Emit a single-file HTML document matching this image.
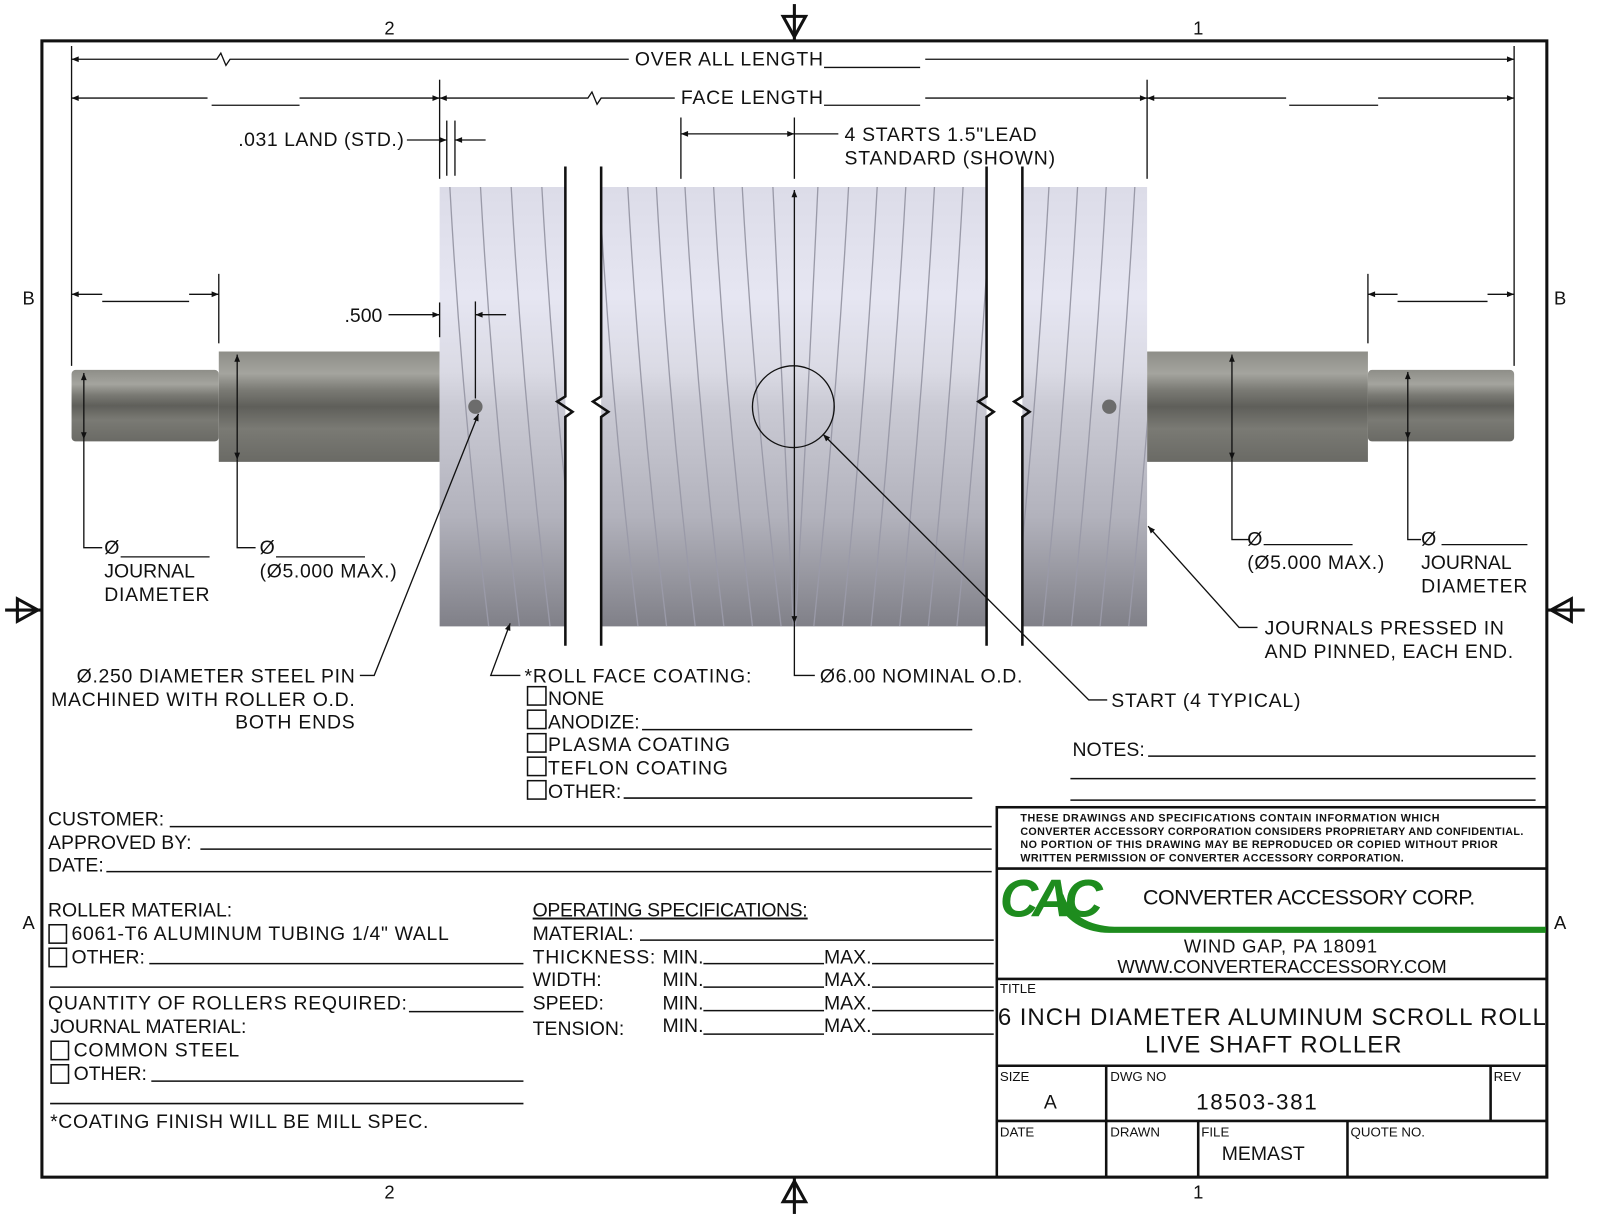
<!DOCTYPE html>
<html><head><meta charset="utf-8"><style>
html,body{margin:0;padding:0;background:#fff;}
svg{display:block;}
text{font-family:"Liberation Sans",Arial,sans-serif;fill:#111;}
</style></head><body>
<svg width="1600" height="1217" viewBox="0 0 1565 1191" preserveAspectRatio="none" xmlns="http://www.w3.org/2000/svg">
<defs>
<linearGradient id="body" x1="0" y1="0" x2="0" y2="1">
<stop offset="0" stop-color="#dcdce8"/><stop offset="0.25" stop-color="#e6e6f2"/><stop offset="0.42" stop-color="#dadae4"/><stop offset="0.5" stop-color="#cacad4"/><stop offset="0.75" stop-color="#b2b2bc"/><stop offset="1" stop-color="#808088"/>
</linearGradient>
<linearGradient id="shaft" x1="0" y1="0" x2="0" y2="1">
<stop offset="0" stop-color="#8e8e88"/><stop offset="0.2" stop-color="#a4a49e"/><stop offset="0.35" stop-color="#7a7a74"/><stop offset="0.5" stop-color="#5f5f5a"/><stop offset="0.7" stop-color="#7a7a74"/><stop offset="1" stop-color="#6a6a65"/>
</linearGradient>
<marker id="ar" viewBox="0 0 10 10" refX="10" refY="5" markerWidth="16" markerHeight="7" orient="auto-start-reverse" markerUnits="userSpaceOnUse"><path d="M0,1 L10,5 L0,9 z" fill="#111"/></marker>
<clipPath id="c1"><rect x="430" y="183" width="123" height="430"/></clipPath>
<clipPath id="c2"><rect x="588" y="183" width="377" height="430"/></clipPath>
<clipPath id="c3"><rect x="1000" y="183" width="122" height="430"/></clipPath>
</defs>

<rect x="41" y="40" width="1472" height="1112" fill="none" stroke="#111" stroke-width="3"/>
<g font-size="18">
<text x="376" y="34">2</text><text x="1167" y="34">1</text>
<text x="376" y="1173">2</text><text x="1167" y="1173">1</text>
<text x="22" y="298">B</text><text x="1520" y="298">B</text>
<text x="22" y="909">A</text><text x="1520" y="909">A</text>
</g>
<g stroke="#111" stroke-width="3" fill="none">
<line x1="777" y1="4" x2="777" y2="40"/><path d="M766,16 L788,16 L777,36 z"/>
<line x1="777" y1="1152" x2="777" y2="1188"/><path d="M766,1176 L788,1176 L777,1156 z"/>
<line x1="5" y1="597" x2="41" y2="597"/><path d="M17,586 L17,608 L37,597 z"/>
<line x1="1513" y1="597" x2="1550" y2="597"/><path d="M1537,586 L1537,608 L1517,597 z"/>
</g>

<rect x="70" y="362" width="144" height="70" rx="4" fill="url(#shaft)"/>
<rect x="214" y="344" width="216" height="108" fill="url(#shaft)"/>
<rect x="1122" y="344" width="216" height="108" fill="url(#shaft)"/>
<rect x="1338" y="362" width="143" height="70" rx="4" fill="url(#shaft)"/>

<rect x="430" y="183" width="123" height="430" fill="url(#body)"/>
<rect x="588" y="183" width="377" height="430" fill="url(#body)"/>
<rect x="1000" y="183" width="122" height="430" fill="url(#body)"/>
<g fill="none" stroke="#9a9aa8" stroke-width="1.3">
<g clip-path="url(#c1)">
<path d="M440,183 Q452,400 478,613"/><path d="M470,183 Q482,400 508,613"/><path d="M500,183 Q512,400 538,613"/><path d="M530,183 Q542,400 568,613"/>
</g>
<g clip-path="url(#c2)">
<path d="M586,183 Q598,400 624,613"/><path d="M614,183 Q626,400 652,613"/><path d="M642,183 Q654,400 680,613"/><path d="M670,183 Q682,400 708,613"/><path d="M698,183 Q710,400 736,613"/><path d="M726,183 Q738,400 764,613"/><path d="M756,183 Q766,400 776,613"/>
<path d="M800,183 Q790,400 778,613"/><path d="M830,183 Q818,400 796,613"/><path d="M858,183 Q846,400 824,613"/><path d="M886,183 Q874,400 852,613"/><path d="M914,183 Q902,400 880,613"/><path d="M942,183 Q930,400 908,613"/><path d="M970,183 Q958,400 936,613"/>
</g>
<g clip-path="url(#c3)">
<path d="M1026,183 Q1014,400 992,613"/><path d="M1054,183 Q1042,400 1020,613"/><path d="M1082,183 Q1070,400 1048,613"/><path d="M1110,183 Q1098,400 1076,613"/><path d="M1138,183 Q1126,400 1104,613"/>
</g>
</g>
<circle cx="465" cy="398" r="7" fill="#6c6c6c"/>
<circle cx="1085" cy="398" r="7" fill="#6c6c6c"/>

<g stroke="#111" stroke-width="2.5" fill="none">
<path d="M553,163 L553,388 L545,393 L560,403 L553,408 L553,632"/>
<path d="M588,163 L588,388 L580,393 L595,403 L588,408 L588,632"/>
<path d="M965,163 L965,388 L957,393 L972,403 L965,408 L965,632"/>
<path d="M1000,163 L1000,388 L992,393 L1007,403 L1000,408 L1000,632"/>
</g>

<g stroke="#111" stroke-width="1.3" fill="none">
<line x1="70" y1="45" x2="70" y2="358"/>
<line x1="1481" y1="45" x2="1481" y2="358"/>
<line x1="430" y1="78" x2="430" y2="175"/>
<line x1="1122" y1="78" x2="1122" y2="175"/>
<line x1="214" y1="268" x2="214" y2="336"/>
<line x1="1338" y1="268" x2="1338" y2="336"/>
<path d="M70,58 L212,58 L216,52 L221,64 L225,58 L615,58" marker-start="url(#ar)"/>
<line x1="905" y1="58" x2="1481" y2="58" marker-end="url(#ar)"/>
<line x1="806" y1="66" x2="900" y2="66"/>
<line x1="70" y1="96" x2="203" y2="96" marker-start="url(#ar)"/>
<line x1="207" y1="103" x2="293" y2="103"/>
<line x1="293" y1="96" x2="430" y2="96" marker-end="url(#ar)"/>
<path d="M430,96 L575,96 L579,90 L584,102 L588,96 L660,96" marker-start="url(#ar)"/>
<line x1="905" y1="96" x2="1122" y2="96" marker-end="url(#ar)"/>
<line x1="806" y1="103" x2="900" y2="103"/>
<line x1="1122" y1="96" x2="1258" y2="96" marker-start="url(#ar)"/>
<line x1="1261" y1="103" x2="1348" y2="103"/>
<line x1="1348" y1="96" x2="1481" y2="96" marker-end="url(#ar)"/>
<line x1="437" y1="118" x2="437" y2="172"/><line x1="445" y1="118" x2="445" y2="172"/>
<line x1="398" y1="137" x2="437" y2="137" marker-end="url(#ar)"/>
<line x1="475" y1="137" x2="445" y2="137" marker-end="url(#ar)"/>
<line x1="666" y1="115" x2="666" y2="175"/>
<line x1="777" y1="115" x2="777" y2="175"/>
<line x1="666" y1="131" x2="777" y2="131" marker-start="url(#ar)" marker-end="url(#ar)"/>
<line x1="777" y1="131" x2="820" y2="131"/>
<line x1="70" y1="288" x2="100" y2="288" marker-start="url(#ar)"/>
<line x1="100" y1="295" x2="185" y2="295"/>
<line x1="185" y1="288" x2="214" y2="288" marker-end="url(#ar)"/>
<line x1="1338" y1="288" x2="1367" y2="288" marker-start="url(#ar)"/>
<line x1="1367" y1="295" x2="1455" y2="295"/>
<line x1="1455" y1="288" x2="1481" y2="288" marker-end="url(#ar)"/>
<line x1="380" y1="308" x2="430" y2="308" marker-end="url(#ar)"/>
<line x1="430" y1="296" x2="430" y2="330"/>
<line x1="465" y1="295" x2="465" y2="390"/>
<line x1="495" y1="308" x2="465" y2="308" marker-end="url(#ar)"/>
<path d="M82,365 L82,430" marker-start="url(#ar)" marker-end="url(#ar)"/>
<path d="M82,430 L82,536 L100,536"/><line x1="118" y1="545" x2="205" y2="545"/>
<path d="M232,347 L232,450" marker-start="url(#ar)" marker-end="url(#ar)"/>
<path d="M232,450 L232,536 L250,536"/><line x1="270" y1="545" x2="357" y2="545"/>
<path d="M1205,347 L1205,450" marker-start="url(#ar)" marker-end="url(#ar)"/>
<path d="M1205,450 L1205,528 L1222,528"/><line x1="1236" y1="533" x2="1323" y2="533"/>
<path d="M1377,364 L1377,430" marker-start="url(#ar)" marker-end="url(#ar)"/>
<path d="M1377,430 L1377,528 L1390,528"/><line x1="1410" y1="533" x2="1494" y2="533"/>
<path d="M777,186 L777,610" marker-start="url(#ar)" marker-end="url(#ar)"/>
<path d="M777,610 L777,661 L797,661"/>
<circle cx="776" cy="398" r="40"/>
<path d="M352,661 L366,661 L468,405" marker-end="url(#ar)"/>
<path d="M509,661 L480,661 L499,610" marker-end="url(#ar)"/>
<path d="M1083,685 L1065,685 L805,425" marker-end="url(#ar)"/>
<path d="M1230,614 L1212,614 L1123,515" marker-end="url(#ar)"/>
</g>

<g font-size="19">
<text x="621" y="64" textLength="184">OVER ALL LENGTH</text>
<text x="666" y="102" textLength="139">FACE LENGTH</text>
<text x="233" y="143" textLength="162">.031 LAND (STD.)</text>
<text x="826" y="138" textLength="188">4 STARTS 1.5"LEAD</text>
<text x="826" y="161" textLength="206">STANDARD (SHOWN)</text>
<text x="337" y="315">.500</text>
<text x="102" y="542">Ø</text><text x="102" y="565">JOURNAL</text><text x="102" y="588" textLength="103">DIAMETER</text>
<text x="254" y="542">Ø</text><text x="254" y="565" textLength="134">(Ø5.000 MAX.)</text>
<text x="1220" y="534">Ø</text><text x="1220" y="557" textLength="134">(Ø5.000 MAX.)</text>
<text x="1390" y="534">Ø</text><text x="1390" y="557">JOURNAL</text><text x="1390" y="580" textLength="104">DIAMETER</text>
<text x="1237" y="621" textLength="234">JOURNALS PRESSED IN</text>
<text x="1237" y="644" textLength="243">AND PINNED, EACH END.</text>
<text x="75" y="668" textLength="272">Ø.250 DIAMETER STEEL PIN</text>
<text x="50" y="691" textLength="297">MACHINED WITH ROLLER O.D.</text>
<text x="230" y="713" textLength="117">BOTH ENDS</text>
<text x="513" y="668" textLength="222">*ROLL FACE COATING:</text>
<text x="536" y="690">NONE</text>
<text x="536" y="713">ANODIZE:</text>
<text x="536" y="735" textLength="178">PLASMA COATING</text>
<text x="536" y="758" textLength="176">TEFLON COATING</text>
<text x="536" y="781">OTHER:</text>
<text x="802" y="668" textLength="198">Ø6.00 NOMINAL O.D.</text>
<text x="1087" y="692" textLength="185">START (4 TYPICAL)</text>
<text x="1049" y="740">NOTES:</text>
</g>
<g fill="none" stroke="#111" stroke-width="1.5">
<rect x="516" y="672" width="18" height="18"/><rect x="516" y="695" width="18" height="18"/><rect x="516" y="718" width="18" height="18"/><rect x="516" y="741" width="18" height="18"/><rect x="516" y="764" width="18" height="18"/>
<line x1="628" y1="714" x2="951" y2="714"/><line x1="610" y1="781" x2="951" y2="781"/>
<line x1="1123" y1="740" x2="1502" y2="740"/><line x1="1047" y1="762" x2="1502" y2="762"/><line x1="1047" y1="783" x2="1502" y2="783"/>
</g>

<g font-size="19">
<text x="47" y="808">CUSTOMER:</text>
<text x="47" y="831">APPROVED BY:</text>
<text x="47" y="853">DATE:</text>
<text x="47" y="897">ROLLER MATERIAL:</text>
<text x="70" y="920" textLength="369">6061-T6 ALUMINUM TUBING 1/4" WALL</text>
<text x="70" y="943">OTHER:</text>
<text x="47" y="988" textLength="351">QUANTITY OF ROLLERS REQUIRED:</text>
<text x="49" y="1011">JOURNAL MATERIAL:</text>
<text x="72" y="1034" textLength="162">COMMON STEEL</text>
<text x="72" y="1057">OTHER:</text>
<text x="49" y="1104" textLength="370">*COATING FINISH WILL BE MILL SPEC.</text>
<text x="521" y="897" text-decoration="underline" textLength="269">OPERATING SPECIFICATIONS:</text>
<text x="521" y="920">MATERIAL:</text>
<text x="521" y="943" textLength="120">THICKNESS:</text><text x="648" y="943">MIN.</text><text x="806" y="943">MAX.</text>
<text x="521" y="965">WIDTH:</text><text x="648" y="965">MIN.</text><text x="806" y="965">MAX.</text>
<text x="521" y="988">SPEED:</text><text x="648" y="988">MIN.</text><text x="806" y="988">MAX.</text>
<text x="521" y="1013">TENSION:</text><text x="648" y="1010">MIN.</text><text x="806" y="1010">MAX.</text>
</g>
<g fill="none" stroke="#111" stroke-width="1.5">
<line x1="166" y1="809" x2="970" y2="809"/><line x1="196" y1="831" x2="970" y2="831"/><line x1="104" y1="853" x2="970" y2="853"/>
<rect x="48" y="905" width="17" height="18"/><rect x="48" y="928" width="17" height="18"/>
<rect x="50" y="1019" width="17" height="18"/><rect x="50" y="1042" width="17" height="18"/>
<line x1="146" y1="943" x2="512" y2="943"/><line x1="49" y1="966" x2="512" y2="966"/>
<line x1="400" y1="990" x2="512" y2="990"/><line x1="148" y1="1058" x2="512" y2="1058"/><line x1="49" y1="1080" x2="512" y2="1080"/>
<line x1="626" y1="920" x2="972" y2="920"/>
<line x1="688" y1="943" x2="806" y2="943"/><line x1="853" y1="943" x2="972" y2="943"/>
<line x1="688" y1="966" x2="806" y2="966"/><line x1="853" y1="966" x2="972" y2="966"/>
<line x1="688" y1="989" x2="806" y2="989"/><line x1="853" y1="989" x2="972" y2="989"/>
<line x1="688" y1="1012" x2="806" y2="1012"/><line x1="853" y1="1012" x2="972" y2="1012"/>
</g>

<g fill="none" stroke="#111" stroke-width="2.5">
<rect x="975" y="790" width="538" height="362"/>
<line x1="975" y1="850" x2="1513" y2="850"/>
<line x1="975" y1="958" x2="1513" y2="958"/>
<line x1="975" y1="1043" x2="1513" y2="1043"/>
<line x1="975" y1="1097" x2="1513" y2="1097"/>
<line x1="1082" y1="1043" x2="1082" y2="1152"/>
<line x1="1458" y1="1043" x2="1458" y2="1097"/>
<line x1="1172" y1="1097" x2="1172" y2="1152"/>
<line x1="1318" y1="1097" x2="1318" y2="1152"/>
</g>
<g font-size="10.5" font-weight="bold">
<text x="998" y="804" textLength="410">THESE DRAWINGS AND SPECIFICATIONS CONTAIN INFORMATION WHICH</text>
<text x="998" y="817" textLength="492">CONVERTER ACCESSORY CORPORATION CONSIDERS PROPRIETARY AND CONFIDENTIAL.</text>
<text x="998" y="830" textLength="467">NO PORTION OF THIS DRAWING MAY BE REPRODUCED OR COPIED WITHOUT PRIOR</text>
<text x="998" y="843" textLength="375">WRITTEN PERMISSION OF CONVERTER ACCESSORY CORPORATION.</text>
</g>
<path d="M1040,875 Q1050,905 1090,907 L1512,907 L1512,913 L1085,913 Q1050,912 1035,885 z" fill="#1e8c1e"/>
<text x="978" y="897" font-size="52" font-weight="bold" font-style="italic" style="fill:#1e8c1e;letter-spacing:-6px">CAC</text>
<text x="1118" y="885" font-size="21" textLength="325">CONVERTER ACCESSORY CORP.</text>
<text x="1158" y="932" font-size="18" textLength="189">WIND GAP, PA 18091</text>
<text x="1093" y="952" font-size="18" textLength="322">WWW.CONVERTERACCESSORY.COM</text>
<text x="978" y="972" font-size="13">TITLE</text>
<text x="976" y="1003" font-size="23.5" textLength="536">6 INCH DIAMETER ALUMINUM SCROLL ROLL</text>
<text x="1120" y="1030" font-size="23.5" textLength="251">LIVE SHAFT ROLLER</text>
<text x="978" y="1058" font-size="13">SIZE</text>
<text x="1086" y="1058" font-size="13">DWG NO</text>
<text x="1461" y="1058" font-size="13">REV</text>
<text x="1021" y="1085" font-size="19">A</text>
<text x="1170" y="1086" font-size="22" textLength="118">18503-381</text>
<text x="978" y="1112" font-size="13">DATE</text>
<text x="1086" y="1112" font-size="13">DRAWN</text>
<text x="1175" y="1112" font-size="13">FILE</text>
<text x="1321" y="1112" font-size="13">QUOTE NO.</text>
<text x="1195" y="1135" font-size="19">MEMAST</text>
</svg>
</body></html>
